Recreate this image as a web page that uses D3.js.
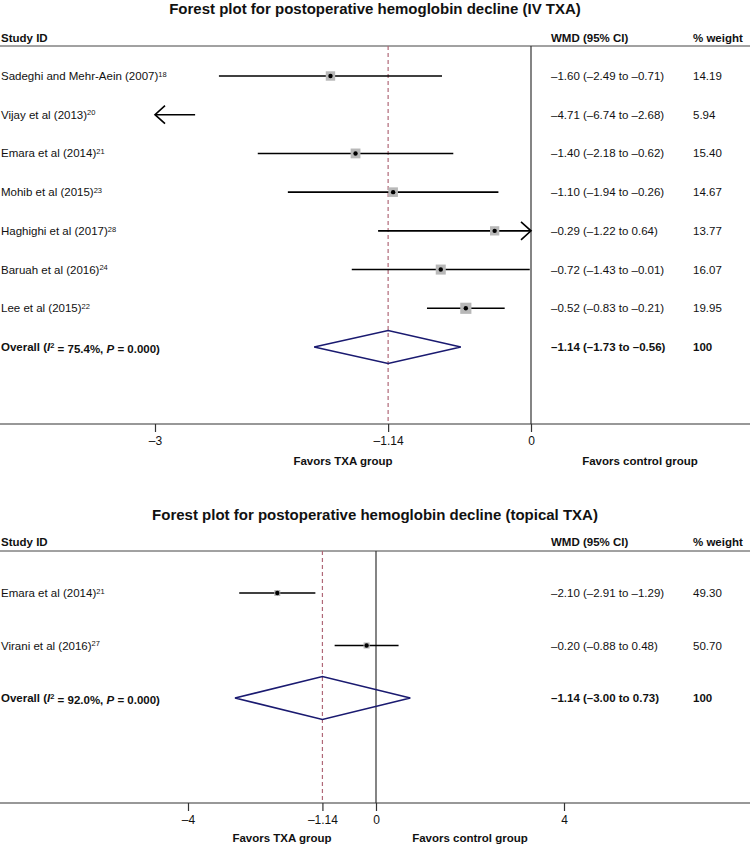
<!DOCTYPE html>
<html><head><meta charset="utf-8">
<script src="https://cdn.jsdelivr.net/npm/d3@7"></script>
<style>
body{margin:0;background:#fff;}
text{font-family:"Liberation Sans",Arial,sans-serif;fill:#111;}
</style></head>
<body>
<svg id="chart" width="750" height="845"></svg>
<script>
// ---------- DATA ----------
const ivTitle = "Forest plot for postoperative hemoglobin decline (IV TXA)";
const ivStudies = ["Sadeghi and Mehr-Aein (2007)", "Vijay et al (2013)", "Emara et al (2014)", "Mohib et al (2015)", "Haghighi et al (2017)", "Baruah et al (2016)", "Lee et al (2015)"];
const ivRefs = ["18", "20", "21", "23", "28", "24", "22"];
const ivEst = [-1.60, -4.71, -1.40, -1.10, -0.29, -0.72, -0.52];
const ivLo = [-2.49, -6.74, -2.18, -1.94, -1.22, -1.43, -0.83];
const ivHi = [-0.71, -2.68, -0.62, -0.26, 0.64, -0.01, -0.21];
const ivWeight = ["14.19", "5.94", "15.40", "14.67", "13.77", "16.07", "19.95"];
const ivOverall = {est: -1.14, lo: -1.73, hi: -0.56, i2: "75.4%", p: "0.000", weight: "100"};
const ivTicks = [-3, -1.14, 0];

const topTitle = "Forest plot for postoperative hemoglobin decline (topical TXA)";
const topStudies = ["Emara et al (2014)", "Virani et al (2016)"];
const topRefs = ["21", "27"];
const topEst = [-2.10, -0.20];
const topLo = [-2.91, -0.88];
const topHi = [-1.29, 0.48];
const topWeight = ["49.30", "50.70"];
const topOverall = {est: -1.14, lo: -3.00, hi: 0.73, i2: "92.0%", p: "0.000", weight: "100"};
const topTicks = [-4, -1.14, 0, 4];

const favorsLabels = ["Favors TXA group", "Favors control group"];

// ---------- DRAW ----------
const svg = d3.select("#chart");
const fmt = v => (v < 0 ? "\u2013" : "") + Math.abs(v).toFixed(2);
const tickFmt = v => (v < 0 ? "\u2013" : "") + (Number.isInteger(v) ? Math.abs(v) : Math.abs(v).toFixed(2));

function drawPanel(cfg, geo) {
  const g = svg.append("g");
  const x = d3.scaleLinear().domain(geo.domain).range(geo.range);
  const rows = cfg.studies.map((s, i) => ({
    name: s, ref: cfg.refs[i], est: cfg.est[i], lo: cfg.lo[i], hi: cfg.hi[i], w: cfg.weight[i]
  }));
  const y = d3.scalePoint().domain(rows.map(r => r.name).concat(["__overall"])).range(geo.rowRange);

  // title
  g.append("text").attr("x", 375).attr("y", geo.titleY).attr("text-anchor", "middle")
    .attr("dy", "0.35em").style("font-size", "15px").style("font-weight", "bold").text(cfg.title);
  // headers
  const hdr = [["Study ID", 1], ["WMD (95% CI)", 551], ["% weight", 693]];
  g.selectAll(".hdr").data(hdr).enter().append("text")
    .attr("x", d => d[1]).attr("y", geo.headerY).attr("dy", "0.35em")
    .style("font-size", "11.5px").style("font-weight", "bold").text(d => d[0]);
  g.append("line").attr("x1", 0).attr("x2", 750).attr("y1", geo.lineY).attr("y2", geo.lineY)
    .attr("stroke", "#444").attr("stroke-width", 1);

  // vertical reference lines
  g.append("line").attr("x1", x(0)).attr("x2", x(0)).attr("y1", geo.lineY).attr("y2", geo.axisY)
    .attr("stroke", "#333").attr("stroke-width", 1.2);
  g.append("line").attr("x1", x(cfg.overall.est)).attr("x2", x(cfg.overall.est))
    .attr("y1", geo.lineY).attr("y2", geo.axisY)
    .attr("stroke", "#b06878").attr("stroke-width", 1.2).attr("stroke-dasharray", "4,3");

  const [dmin, dmax] = geo.domain;
  rows.forEach(r => {
    const yy = y(r.name);
    const lo = Math.max(r.lo, dmin), hi = Math.min(r.hi, dmax);
    g.append("line").attr("x1", x(lo)).attr("x2", x(hi)).attr("y1", yy).attr("y2", yy)
      .attr("stroke", "#000").attr("stroke-width", 1.6);
    const ah = geo.arrowH, al = geo.arrowL;
    if (r.lo < dmin) {
      g.append("path").attr("d", `M${x(dmin) + al},${yy - ah} L${x(dmin)},${yy} L${x(dmin) + al},${yy + ah}`)
        .attr("fill", "none").attr("stroke", "#000").attr("stroke-width", 1.6);
    }
    if (r.hi > dmax) {
      g.append("path").attr("d", `M${x(dmax) - al},${yy - ah} L${x(dmax)},${yy} L${x(dmax) - al},${yy + ah}`)
        .attr("fill", "none").attr("stroke", "#000").attr("stroke-width", 1.6);
    }
    if (r.est >= dmin && r.est <= dmax) {
      const s = geo.boxK * Math.sqrt(+r.w);
      g.append("rect").attr("x", x(r.est) - s / 2).attr("y", yy - s / 2).attr("width", s).attr("height", s)
        .attr("fill", "#b8b8b8");
      g.append("circle").attr("cx", x(r.est)).attr("cy", yy).attr("r", 2.2).attr("fill", "#000");
    }
    // label with superscript
    const t = g.append("text").attr("x", 1).attr("y", yy).attr("dy", "0.35em").style("font-size", "11.5px");
    t.append("tspan").text(r.name);
    t.append("tspan").attr("dy", "-0.45em").style("font-size", "7.5px").text(r.ref);
    g.append("text").attr("x", 551).attr("y", yy).attr("dy", "0.35em").style("font-size", "11.5px")
      .text(`${fmt(r.est)} (${fmt(r.lo)} to ${fmt(r.hi)})`);
    g.append("text").attr("x", 693).attr("y", yy).attr("dy", "0.35em").style("font-size", "11.5px").text(r.w);
  });

  // overall
  const o = cfg.overall, oy = y("__overall"), dh = geo.diamondH;
  g.append("path")
    .attr("d", `M${x(o.lo)},${oy} L${x(o.est)},${oy - dh} L${x(o.hi)},${oy} L${x(o.est)},${oy + dh} Z`)
    .attr("fill", "none").attr("stroke", "#1a1a70").attr("stroke-width", 1.6);
  const ot = g.append("text").attr("x", 1).attr("y", oy).attr("dy", "0.35em")
    .style("font-size", "11.5px").style("font-weight", "bold");
  ot.append("tspan").text("Overall (");
  ot.append("tspan").style("font-style", "italic").text("I");
  ot.append("tspan").attr("dy", "-0.45em").style("font-size", "7.5px").text("2");
  ot.append("tspan").attr("dy", "0.45em").text(" = " + o.i2 + ", ");
  ot.append("tspan").style("font-style", "italic").text("P");
  ot.append("tspan").text(" = " + o.p + ")");
  g.append("text").attr("x", 551).attr("y", oy).attr("dy", "0.35em").style("font-size", "11.5px")
    .style("font-weight", "bold").text(`${fmt(o.est)} (${fmt(o.lo)} to ${fmt(o.hi)})`);
  g.append("text").attr("x", 693).attr("y", oy).attr("dy", "0.35em").style("font-size", "11.5px")
    .style("font-weight", "bold").text(o.weight);

  // axis
  g.append("line").attr("x1", 0).attr("x2", 750).attr("y1", geo.axisY).attr("y2", geo.axisY)
    .attr("stroke", "#333").attr("stroke-width", 1.2);
  const axis = d3.axisBottom(x).tickValues(cfg.ticks).tickFormat(tickFmt).tickSize(8).tickPadding(4);
  const ag = g.append("g").attr("transform", `translate(0,${geo.axisY})`).call(axis);
  ag.select(".domain").remove();
  ag.selectAll(".tick line").attr("stroke", "#333").attr("stroke-width", 1.2);
  ag.selectAll(".tick text").style("font-size", "12px").style("font-family", "'Liberation Sans',Arial,sans-serif").attr("fill", "#111");

  g.selectAll(".fav").data(favorsLabels).enter().append("text")
    .attr("x", (d, i) => x(geo.favorsAt[i])).attr("y", geo.favorsY).attr("dy", "0.35em")
    .attr("text-anchor", "middle").style("font-size", "11.5px").style("font-weight", "bold").text(d => d);
}

drawPanel(
  {title: ivTitle, studies: ivStudies, refs: ivRefs, est: ivEst, lo: ivLo, hi: ivHi, weight: ivWeight, overall: ivOverall, ticks: ivTicks},
  {domain: [-3, 0], range: [155, 531], titleY: 9, headerY: 38, lineY: 46, rowRange: [76, 347],
   axisY: 424, favorsY: 461, favorsAt: [-1.5, 0.87], boxK: 2.5, diamondH: 16.5, arrowH: 9, arrowL: 10}
);
drawPanel(
  {title: topTitle, studies: topStudies, refs: topRefs, est: topEst, lo: topLo, hi: topHi, weight: topWeight, overall: topOverall, ticks: topTicks},
  {domain: [-4, 4], range: [188, 564], titleY: 515, headerY: 542, lineY: 551, rowRange: [593, 698],
   axisY: 803, favorsY: 838, favorsAt: [-2, 2], boxK: 0.85, diamondH: 21.5, arrowH: 8, arrowL: 10}
);
</script>
</body></html>
